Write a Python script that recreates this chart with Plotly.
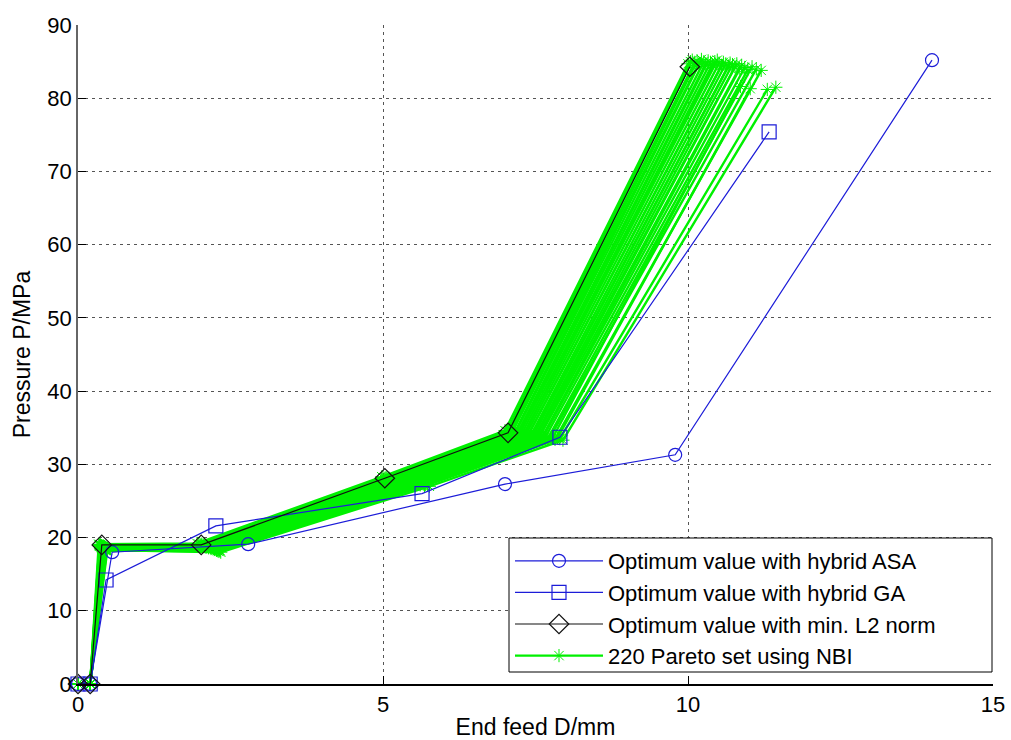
import plotly.graph_objects as go

# Pressure-path solutions: end feed D (mm) vs internal pressure P (MPa)
asa_d = [0.0, 0.2, 0.56, 2.79, 7.0, 9.79, 14.0]
asa_p = [0.0, 0.0, 18.0, 19.1, 27.3, 31.3, 85.2]

ga_d = [0.0, 0.2, 0.46, 2.26, 5.64, 7.9, 11.33]
ga_p = [0.0, 0.0, 14.2, 21.6, 26.0, 33.7, 75.4]

l2_d = [0.0, 0.2, 0.39, 2.02, 5.03, 7.05, 10.03]
l2_p = [0.0, 0.0, 19.0, 19.0, 28.1, 34.3, 84.3]

# NBI Pareto set: every path starts at (0,0) and (0.2,0); vertices 3..7 per solution
nbi_start_d = [0.0, 0.2]
nbi_start_p = [0.0, 0.0]
nbi_d3 = [0.34, 0.35, 0.35, 0.36, 0.36, 0.37, 0.37, 0.38, 0.38, 0.38, 0.39, 0.39, 0.40, 0.40, 0.40, 0.41, 0.41,
          0.42, 0.42, 0.42, 0.43, 0.43, 0.43, 0.44, 0.44, 0.44, 0.45, 0.45, 0.45, 0.46, 0.46, 0.47, 0.47, 0.48]
nbi_p3 = [19.1, 19.0, 18.9, 19.0, 18.8, 18.9, 19.0, 18.7, 18.9, 18.8, 18.6, 18.9, 18.7, 18.8, 18.5, 18.7, 18.6,
          18.8, 18.5, 18.6, 18.7, 18.4, 18.6, 18.5, 18.3, 18.6, 18.4, 18.5, 18.2, 18.4, 18.3, 18.5, 18.2, 18.3]
nbi_d4 = [1.95, 1.98, 2.00, 2.02, 2.03, 2.05, 2.06, 2.08, 2.09, 2.10, 2.12, 2.13, 2.14, 2.15, 2.17, 2.18, 2.19,
          2.20, 2.21, 2.22, 2.23, 2.24, 2.25, 2.26, 2.27, 2.27, 2.28, 2.29, 2.30, 2.31, 2.31, 2.32, 2.33, 2.34]
nbi_p4 = [19.2, 19.1, 19.0, 19.1, 18.9, 19.0, 18.8, 19.0, 18.9, 18.7, 18.9, 18.8, 18.6, 18.8, 18.7, 18.5, 18.7,
          18.6, 18.8, 18.5, 18.6, 18.4, 18.6, 18.5, 18.3, 18.5, 18.4, 18.2, 18.4, 18.3, 18.1, 18.3, 18.2, 18.0]
nbi_d5 = [4.98, 5.00, 5.03, 5.05, 5.07, 5.10, 5.12, 5.14, 5.17, 5.19, 5.21, 5.24, 5.26, 5.28, 5.31, 5.33, 5.35,
          5.38, 5.40, 5.42, 5.45, 5.47, 5.49, 5.52, 5.54, 5.56, 5.59, 5.61, 5.63, 5.66, 5.68, 5.70, 5.73, 5.76]
nbi_p5 = [28.3, 28.2, 28.1, 28.2, 28.0, 28.1, 27.9, 28.0, 27.9, 27.8, 28.0, 27.8, 27.7, 27.9, 27.7, 27.6, 27.8,
          27.6, 27.5, 27.7, 27.5, 27.6, 27.4, 27.5, 27.3, 27.5, 27.4, 27.2, 27.4, 27.3, 27.1, 27.3, 27.2, 27.0]
nbi_d6 = [7.00, 7.03, 7.05, 7.08, 7.10, 7.12, 7.15, 7.17, 7.20, 7.22, 7.25, 7.27, 7.30, 7.32, 7.34, 7.37, 7.39,
          7.42, 7.44, 7.47, 7.49, 7.52, 7.54, 7.57, 7.60, 7.63, 7.66, 7.70, 7.74, 7.78, 7.82, 7.86, 7.90, 7.95]
nbi_p6 = [34.6, 34.5, 34.4, 34.5, 34.3, 34.4, 34.2, 34.3, 34.2, 34.1, 34.3, 34.1, 34.0, 34.2, 34.0, 33.9, 34.1,
          33.9, 33.8, 34.0, 33.8, 33.9, 33.7, 33.8, 33.6, 33.8, 33.7, 33.5, 33.7, 33.6, 33.4, 33.6, 33.5, 33.3]
nbi_d7 = [10.00, 10.04, 10.07, 10.11, 10.15, 10.18, 10.22, 10.26, 10.29, 10.33, 10.37, 10.40, 10.44, 10.48, 10.51,
          10.55, 10.58, 10.62, 10.66, 10.69, 10.73, 10.77, 10.80, 10.84, 10.88, 10.93, 10.98, 11.05, 11.12, 10.86,
          11.20, 11.02, 11.30, 11.44]
nbi_p7 = [84.7, 85.0, 85.2, 84.9, 85.1, 84.8, 85.3, 85.0, 84.7, 85.1, 84.9, 84.6, 85.0, 85.2, 84.8, 84.5, 84.9,
          84.7, 84.4, 84.8, 84.6, 84.3, 84.7, 84.1, 84.5, 84.2, 83.9, 84.3, 84.0, 81.6, 83.8, 81.3, 81.2, 81.5]

x_ticks = [0, 5, 10, 15]
y_ticks = [0, 10, 20, 30, 40, 50, 60, 70, 80, 90]

FONT = "Liberation Sans, Arial, sans-serif"
BLUE = "#1c1cd8"
GREEN = "#00f000"

# plot-area geometry in pixels
W, H = 1011, 740
ML, MR, MT, MB = 78, 18, 25, 56
PW, PH = W - ML - MR, H - MT - MB


def px_x(p):
    return (p - ML) / PW


def px_y(p):
    return (H - MB - p) / PH


fig = go.Figure()

# Pareto band first so the single optimum paths sit on top of it
for i in range(len(nbi_d7)):
    xs = nbi_start_d + [nbi_d3[i], nbi_d4[i], nbi_d5[i], nbi_d6[i], nbi_d7[i]]
    ys = nbi_start_p + [nbi_p3[i], nbi_p4[i], nbi_p5[i], nbi_p6[i], nbi_p7[i]]
    fig.add_trace(go.Scatter(
        x=xs, y=ys, mode="lines+markers",
        name="220 Pareto set using NBI",
        legendgroup="nbi", showlegend=(i == 0), legendrank=4,
        line=dict(color=GREEN, width=2.4),
        marker=dict(symbol="asterisk-open", size=11, color=GREEN,
                    line=dict(color=GREEN, width=1)),
        cliponaxis=False,
    ))

fig.add_trace(go.Scatter(
    x=asa_d, y=asa_p, mode="lines+markers",
    name="Optimum value with hybrid ASA", legendrank=1,
    line=dict(color=BLUE, width=1.2),
    marker=dict(symbol="circle-open", size=13, color=BLUE, line=dict(width=1.2)),
    cliponaxis=False,
))
fig.add_trace(go.Scatter(
    x=ga_d, y=ga_p, mode="lines+markers",
    name="Optimum value with hybrid GA", legendrank=2,
    line=dict(color=BLUE, width=1.2),
    marker=dict(symbol="square-open", size=14, color=BLUE, line=dict(width=1.2)),
    cliponaxis=False,
))
fig.add_trace(go.Scatter(
    x=l2_d, y=l2_p, mode="lines+markers",
    name="Optimum value with min. L2 norm", legendrank=3,
    line=dict(color="#111111", width=1.2),
    marker=dict(symbol="diamond-open", size=15, color="#111111", line=dict(width=1.2)),
    cliponaxis=False,
))

# legend frame (wider than the text block, as in the MATLAB legend box)
fig.add_shape(
    type="rect", xref="paper", yref="paper",
    x0=px_x(509), x1=px_x(992), y0=px_y(672), y1=px_y(538),
    fillcolor="white", line=dict(color="black", width=1), layer="above",
)

fig.update_layout(
    width=W, height=H,
    margin=dict(l=ML, r=MR, t=MT, b=MB),
    paper_bgcolor="white", plot_bgcolor="white",
    font=dict(family=FONT, size=22, color="black"),
    legend=dict(
        x=px_x(510), y=px_y(540), xanchor="left", yanchor="top",
        bgcolor="rgba(0,0,0,0)", borderwidth=0,
        font=dict(family=FONT, size=22, color="black"),
        itemwidth=88, tracegroupgap=0,
    ),
    xaxis=dict(
        range=[0, 15], tickvals=x_ticks, ticks="inside", ticklen=8,
        tickcolor="black", showline=True, linecolor="black", linewidth=1.5,
        showgrid=True, gridcolor="#555555", griddash="3px,4px", gridwidth=1,
        zeroline=False, tickfont=dict(size=22), automargin=False,
        title=dict(text="End feed D/mm", font=dict(size=23), standoff=4),
    ),
    yaxis=dict(
        range=[0, 90], tickvals=y_ticks, ticks="inside", ticklen=8,
        tickcolor="black", showline=True, linecolor="#666666", linewidth=1.5,
        showgrid=True, gridcolor="#555555", griddash="3px,4px", gridwidth=1,
        zeroline=False, tickfont=dict(size=22), automargin=False,
        title=dict(text="Pressure P/MPa", font=dict(size=23), standoff=10),
    ),
)

fig.write_html("out.html")
